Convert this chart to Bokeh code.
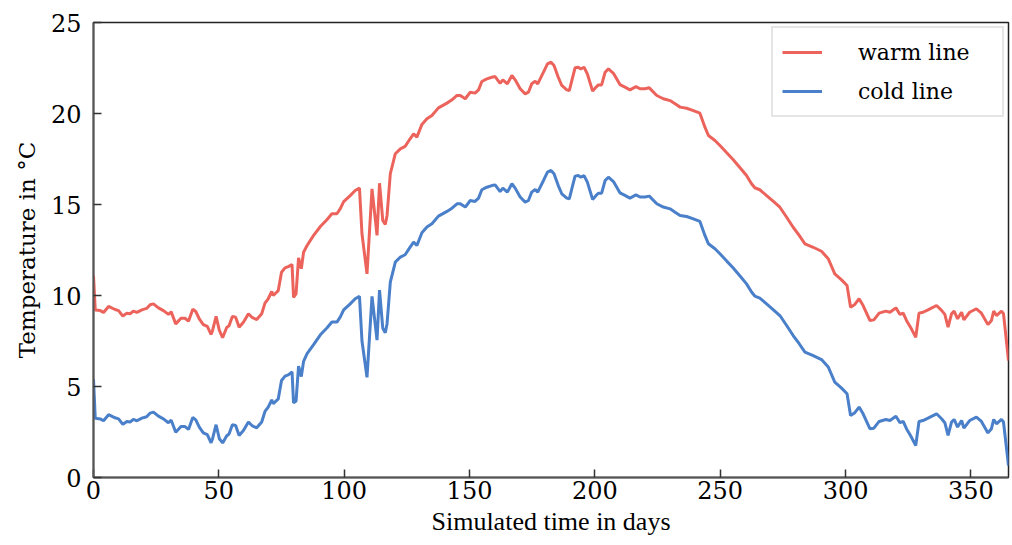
from bokeh.plotting import figure
from bokeh.models import ColumnDataSource, FixedTicker, Range1d, Legend, LegendItem
from bokeh.embed import file_html
from bokeh.resources import INLINE

days = [0, 0.7, 2.7, 4, 6, 8.6, 10, 11.7, 13.3, 14.6, 15.9, 17.3, 19.3, 21.2, 22.6, 23.9,
        25.9, 27.9, 29.9, 31, 32.8, 34.9, 36.5, 37.9, 39.6, 40.8, 42.2, 43.8, 45.4, 46.9,
        47.5, 48.9, 50.2, 51.5, 53.1, 54.1, 55.4, 56.7, 58.1, 59.8, 61.8, 63.4, 65.1, 67.1,
        68.4, 69.7, 71.1, 71.7, 73.7, 75, 76.4, 77.7, 79.2, 79.8, 80.8, 81.8, 82.9, 83.8,
        85.2, 87.8, 90.5, 93.1, 95.1, 97.1, 98.4, 99.8, 102.4, 104.4, 106.1, 107.1, 109.1,
        111.1, 113.1, 114.1, 115.4, 116.4, 117.1, 118.4, 120.4, 122.4, 124.3, 126.3, 127.7,
        129, 131, 133, 135, 137.6, 141, 143, 145, 146.3, 148.3, 150.3, 152.2, 153.6, 154.9,
        156.9, 158.9, 160.2, 162.2, 163.3, 165.1, 166.9, 168.2, 170.2, 172.2, 173.5, 174.8,
        176.2, 177.2, 179.5, 181.1, 182.5, 183.7, 185.4, 186.8, 188.8, 189.8, 190.8, 192.1,
        193.4, 194.4, 195.7, 197, 199.1, 200.5, 201.4, 202.7, 204.1, 205.4, 207.4, 210, 212,
        214, 216.4, 218, 220, 221.7, 224.7, 227.3, 230, 232, 234, 236.6, 239.3, 241.9, 243.9,
        245.3, 247.9, 249.9, 252.6, 255.2, 257.9, 260.5, 262.5, 263.8, 265.8, 268.5, 271.1,
        273.8, 276.5, 279.1, 281.5, 283.8, 287.1, 290.4, 293.1, 295.7, 298.4, 300.6, 302,
        303.7, 305.4, 307, 309.7, 311.3, 313.4, 316.1, 317.7, 320.1, 321.7, 323, 324.3,
        325.9, 328, 329.3, 330.9, 332.9, 336.3, 338.3, 339.6, 340.9, 342.3, 343.3, 344.7,
        346.3, 347.2, 349.5, 352.2, 354.2, 356.8, 358.2, 359.1, 360.2, 362.2, 363, 365]

warm_line = [11.1, 9.2, 9.17, 9.07, 9.4, 9.23, 9.17, 8.87, 9.03, 9.0, 9.14, 9.07, 9.21, 9.29, 9.49, 9.54,
             9.32, 9.17, 8.96, 9.1, 8.44, 8.75, 8.75, 8.59, 9.25, 9.12, 8.72, 8.4, 8.3, 7.86,
             8.08, 8.85, 8.08, 7.68, 8.23, 8.35, 8.85, 8.81, 8.26, 8.53, 9.0, 8.78, 8.68, 9.0,
             9.58, 9.82, 10.22, 10.0, 10.27, 11.28, 11.52, 11.59, 11.7, 9.9, 10.09, 12.07, 11.47, 12.38,
             12.75, 13.3, 13.79, 14.16, 14.49, 14.49, 14.76, 15.16, 15.49, 15.77, 15.9, 13.39, 11.19,
             15.86, 13.3, 16.17, 14.12, 13.9, 14.4, 16.69, 17.79, 18.06, 18.19, 18.61, 18.88,
             18.7, 19.4, 19.71, 19.89, 20.31, 20.57, 20.75, 20.99, 20.99, 20.81, 21.17, 21.12, 21.3, 21.76,
             21.9, 21.99, 22.03, 21.66, 21.85, 21.63, 22.09, 21.85, 21.36, 21.08, 21.17, 21.63,
             21.77, 21.63, 22.27, 22.73, 22.82, 22.64, 21.99, 21.54, 21.3, 21.26, 21.81, 22.51,
             22.54, 22.45, 22.54, 22.18, 21.23, 21.45, 21.57, 21.57, 22.27, 22.45, 22.21, 21.59, 21.45,
             21.3, 21.48, 21.36, 21.36, 21.41, 20.99, 20.81, 20.71, 20.53, 20.35, 20.29, 20.16, 20.02, 19.25,
             18.79, 18.52, 18.24, 17.84, 17.46, 17.02, 16.59, 16.14, 15.92, 15.81, 15.49, 15.18,
             14.85, 14.3, 13.75, 13.3, 12.84, 12.65, 12.43, 12.02, 11.19, 10.86, 10.55, 9.36,
             9.51, 9.82, 9.45, 8.63, 8.66, 9.03, 9.14, 9.08, 9.32, 8.96, 9.03, 8.63,
             8.26, 7.71, 9.03, 9.08, 9.21, 9.45, 9.18, 8.96, 8.26, 9.0, 9.14, 8.72,
             9.08, 8.66, 9.08, 9.27, 9.03, 8.4, 8.63, 9.14, 8.9, 9.14, 9.0, 6.43]

cold_line = [5.4, 3.25, 3.22, 3.12, 3.45, 3.28, 3.22, 2.92, 3.08, 3.05, 3.19, 3.12, 3.26, 3.34, 3.54, 3.59,
             3.37, 3.22, 3.01, 3.15, 2.49, 2.8, 2.8, 2.64, 3.3, 3.17, 2.77, 2.45, 2.35, 1.91,
             2.13, 2.9, 2.13, 1.9, 2.28, 2.4, 2.9, 2.86, 2.31, 2.58, 3.05, 2.83, 2.73, 3.05,
             3.63, 3.87, 4.27, 4.05, 4.32, 5.33, 5.57, 5.64, 5.8, 4.1, 4.2, 6.12, 5.55, 6.38,
             6.8, 7.3, 7.84, 8.21, 8.54, 8.54, 8.81, 9.21, 9.54, 9.82, 9.95, 7.5, 5.5,
             9.95, 7.55, 10.3, 8.2, 7.95, 8.45, 10.74, 11.84, 12.11, 12.24, 12.66, 12.93,
             12.75, 13.45, 13.76, 13.94, 14.36, 14.62, 14.8, 15.04, 15.04, 14.86, 15.22, 15.17, 15.35, 15.81,
             15.95, 16.04, 16.08, 15.71, 15.9, 15.68, 16.14, 15.9, 15.41, 15.13, 15.22, 15.68,
             15.82, 15.68, 16.32, 16.78, 16.87, 16.69, 16.04, 15.59, 15.35, 15.31, 15.86, 16.56,
             16.59, 16.5, 16.59, 16.23, 15.28, 15.5, 15.62, 15.62, 16.32, 16.5, 16.26, 15.64, 15.5,
             15.35, 15.53, 15.41, 15.41, 15.46, 15.04, 14.86, 14.76, 14.58, 14.4, 14.34, 14.21, 14.07, 13.3,
             12.84, 12.57, 12.29, 11.89, 11.51, 11.07, 10.64, 10.19, 9.97, 9.86, 9.54, 9.23,
             8.9, 8.35, 7.8, 7.35, 6.89, 6.7, 6.48, 6.07, 5.24, 4.91, 4.6, 3.41,
             3.56, 3.87, 3.5, 2.68, 2.71, 3.08, 3.19, 3.13, 3.37, 3.01, 3.08, 2.68,
             2.31, 1.76, 3.08, 3.13, 3.26, 3.5, 3.23, 3.01, 2.31, 3.05, 3.19, 2.77,
             3.13, 2.71, 3.13, 3.32, 3.08, 2.45, 2.68, 3.19, 2.95, 3.19, 3.05, 0.66]

x_ticks = [0, 50, 100, 150, 200, 250, 300, 350]
y_ticks = [0, 5, 10, 15, 20, 25]

SERIF = "DejaVu Serif"
SERIF_NARROW = "Liberation Serif"

src = ColumnDataSource(data=dict(day=days, warm=warm_line, cold=cold_line))

p = figure(width=1010, height=543, output_backend="svg", toolbar_location=None,
           x_range=Range1d(0, 365), y_range=Range1d(0, 25),
           min_border_left=93, min_border_top=22, min_border_right=2, min_border_bottom=66)

r_warm = p.line("day", "warm", source=src, line_color="#EC635C", line_width=3)
r_cold = p.line("day", "cold", source=src, line_color="#4A7FC9", line_width=3)

p.xgrid.visible = False
p.ygrid.visible = False
p.outline_line_color = "#222222"
p.outline_line_width = 1.5
p.background_fill_color = "white"
p.border_fill_color = "white"

for ax in (p.xaxis[0], p.yaxis[0]):
    ax.major_tick_in = 8
    ax.major_tick_out = 0
    ax.minor_tick_line_color = None
    ax.axis_line_color = "#555555"
    ax.axis_line_width = 2
    ax.major_tick_line_color = "#333333"
    ax.major_tick_line_width = 1.5
    ax.major_label_text_font = SERIF
    ax.major_label_text_font_size = "24px"
    ax.major_label_text_color = "black"
    ax.axis_label_text_font_style = "normal"
    ax.axis_label_text_color = "black"

p.xaxis.ticker = FixedTicker(ticks=x_ticks)
p.yaxis.ticker = FixedTicker(ticks=y_ticks)
p.xaxis.axis_label = "Simulated time in days"
p.yaxis.axis_label = "Temperature in °C"
p.xaxis.axis_label_text_font = SERIF_NARROW
p.xaxis.axis_label_text_font_size = "26px"
p.yaxis.axis_label_text_font = SERIF
p.yaxis.axis_label_text_font_size = "23px"
p.xaxis.major_label_standoff = 3
p.xaxis.axis_label_standoff = 5
p.yaxis.major_label_standoff = 12
p.yaxis.axis_label_standoff = 8

legend = Legend(items=[LegendItem(label="warm line", renderers=[r_warm]),
                       LegendItem(label="cold line", renderers=[r_cold])],
                location="top_right")
legend.label_text_font = SERIF
legend.label_text_font_size = "22px"
legend.label_text_color = "black"
legend.border_line_color = "#cccccc"
legend.border_line_width = 2
legend.glyph_width = 40
legend.glyph_height = 20
legend.label_standoff = 36
legend.label_height = 30
legend.label_width = 135
legend.spacing = 9
legend.padding = 9
legend.margin = 4
legend.background_fill_alpha = 1
p.add_layout(legend)

open("out.html", "w").write(file_html(p, INLINE))
